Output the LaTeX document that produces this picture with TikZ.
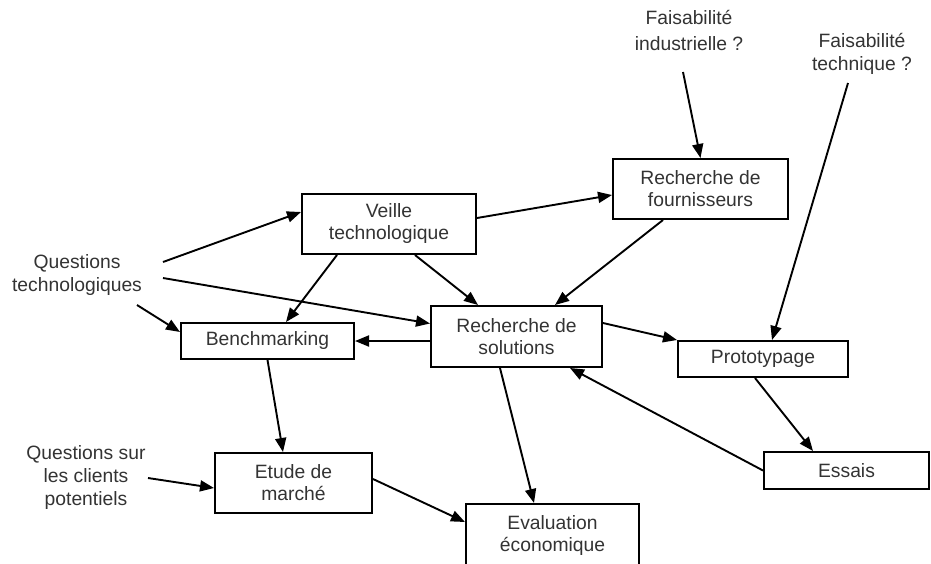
\documentclass[tikz,border=0pt]{standalone}
\usepackage{fontspec}
\setmainfont{Liberation Sans}
\usetikzlibrary{arrows.meta}
\begin{document}
\begin{tikzpicture}[x=1pt,y=-1pt,
  box/.style={draw, line width=2pt, inner sep=0pt, align=center, text=black!80, font=\fontsize{19.3}{22}\selectfont},
  lbl/.style={align=center, inner sep=0pt, text=black!80, font=\fontsize{19.3}{23}\selectfont},
  arr/.style={line width=1.9pt, -{Triangle[length=14pt,width=11pt]}}]
\path[use as bounding box, clip] (0,0) rectangle (931,563);
\fill[white] (0,0) rectangle (931,563);
% boxes
\node[box, minimum width=174pt, minimum height=60pt] (veille) at (389,224) {Veille\\technologique};
\node[box, minimum width=175pt, minimum height=60pt] (fourn) at (700.5,189) {Recherche de\\fournisseurs};
\node[box, minimum width=171pt, minimum height=61pt] (sol) at (516.5,336.5) {Recherche de\\solutions};
\node[box, minimum width=173pt, minimum height=36pt] (bench) at (267.5,341) {Benchmarking};
\node[box, minimum width=170pt, minimum height=36pt] (proto) at (763,359) {Prototypage};
\node[box, minimum width=157pt, minimum height=60pt] (etude) at (293.5,483) {Etude de\\march\'e};
\node[box, minimum width=165pt, minimum height=37pt] (essais) at (846.5,470.5) {Essais};
\node[box, minimum width=173pt, minimum height=62pt] (evalu) at (552.5,535) {Evaluation\\\'economique};
% free labels
\node[lbl] (qtech) at (77,275) {Questions\\technologiques};
\node[lbl] (qcli) at (86,477) {Questions sur\\les clients\\potentiels};
\node[lbl] (find) at (689,30) {Faisabilit\'e\\[3pt]industrielle ?};
\node[lbl] (ftech) at (862,54) {Faisabilit\'e\\technique ?};
% free ends
\coordinate (qt1) at (163,262);
\coordinate (qt2) at (163,278);
\coordinate (qt3) at (137,305);
\coordinate (fi) at (683,72);
\coordinate (ft) at (848,83);
\coordinate (qc) at (148,478);
% connectors
\draw[arr] (qt1) -- ([yshift=12pt]veille.west);
\draw[arr] (qt2) -- ([yshift=13pt]sol.west);
\draw[arr] (qt3) -- ([yshift=9pt]bench.west);
\draw[arr] ([xshift=-52pt]veille.south) -- ([xshift=18.5pt]bench.north);
\draw[arr] ([xshift=26pt]veille.south) -- ([xshift=-38.5pt]sol.north);
\draw[arr] ([yshift=6pt]veille.east) -- ([yshift=-6pt]fourn.west);
\draw[arr] (fi) -- (fourn.north);
\draw[arr] ([xshift=-37.5pt]fourn.south) -- ([xshift=38.5pt]sol.north);
\draw[arr] ([yshift=-4.5pt]sol.west) -- (bench.east);
\draw[arr] ([yshift=13.5pt]sol.east) -- (proto.north west);
\draw[arr] (ft) -- ([xshift=9pt]proto.north);
\draw[arr] ([xshift=-8pt]proto.south) -- ([xshift=-33.5pt]essais.north);
\draw[arr] (essais.west) -- ([xshift=53.5pt]sol.south);
\draw[arr] ([xshift=-16.5pt]sol.south) -- ([xshift=-18.5pt]evalu.north);
\draw[arr] (bench.south) -- ([xshift=-10.5pt]etude.north);
\draw[arr] (qc) -- ([yshift=-5pt]etude.west);
\draw[arr] ([yshift=4pt]etude.east) -- ([yshift=13pt]evalu.west);
\end{tikzpicture}
\end{document}
